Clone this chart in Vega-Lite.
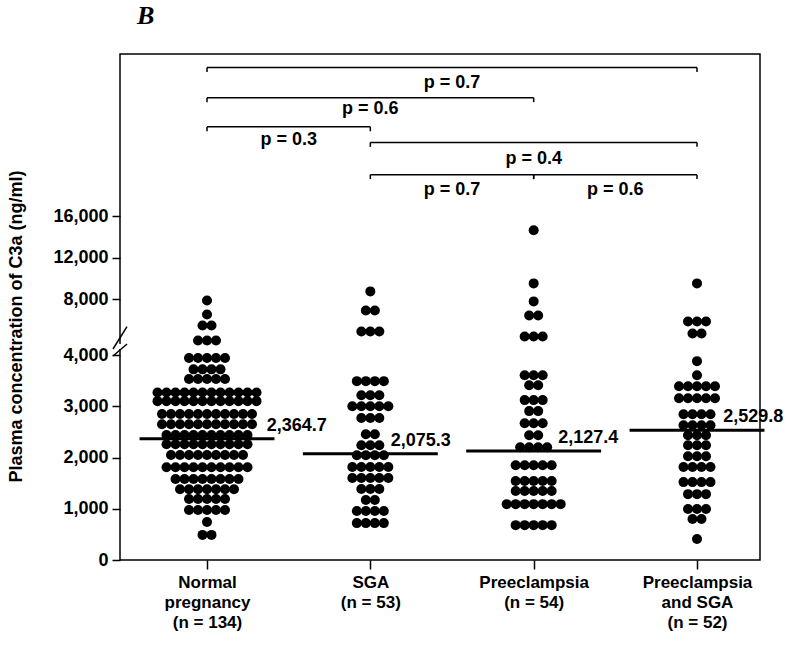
{
  "$schema": "https://vega.github.io/schema/vega-lite/v6.json",
  "autosize": {"type": "none"},
  "width": 640,
  "height": 506,
  "padding": {"left": 120, "top": 54, "right": 40, "bottom": 86},
  "background": "white",
  "config": {
    "view": {"stroke": "black", "strokeWidth": 1.5},
    "font": "Liberation Sans",
    "text": {"font": "Liberation Sans", "fontWeight": "bold", "fontSize": 18, "color": "black"}
  },
  "title": {"text": "B", "font": "Liberation Serif", "fontSize": 26, "fontStyle": "italic", "fontWeight": "bold", "anchor": "start", "frame": "group", "dx": 17, "offset": 25, "color": "black"},
  "datasets": {
    "dots": [
      {"g":"N","v":7900},
      {"g":"N","v":6550},
      {"g":"N","v":5500},{"g":"N","v":5500},
      {"g":"N","v":4050},{"g":"N","v":4050},{"g":"N","v":4050},
      {"g":"N","v":3940},{"g":"N","v":3940},{"g":"N","v":3940},{"g":"N","v":3940},{"g":"N","v":3940},
      {"g":"N","v":3720},{"g":"N","v":3720},{"g":"N","v":3720},{"g":"N","v":3720},
      {"g":"N","v":3530},{"g":"N","v":3530},{"g":"N","v":3530},{"g":"N","v":3530},{"g":"N","v":3530},
      {"g":"N","v":3270},{"g":"N","v":3270},{"g":"N","v":3270},{"g":"N","v":3270},{"g":"N","v":3270},{"g":"N","v":3270},{"g":"N","v":3270},{"g":"N","v":3270},{"g":"N","v":3270},{"g":"N","v":3270},{"g":"N","v":3270},{"g":"N","v":3270},
      {"g":"N","v":3100},{"g":"N","v":3100},{"g":"N","v":3100},{"g":"N","v":3100},{"g":"N","v":3100},{"g":"N","v":3100},{"g":"N","v":3100},{"g":"N","v":3100},{"g":"N","v":3100},{"g":"N","v":3100},{"g":"N","v":3100},{"g":"N","v":3100},
      {"g":"N","v":2850},{"g":"N","v":2850},{"g":"N","v":2850},{"g":"N","v":2850},{"g":"N","v":2850},{"g":"N","v":2850},{"g":"N","v":2850},{"g":"N","v":2850},{"g":"N","v":2850},{"g":"N","v":2850},{"g":"N","v":2850},
      {"g":"N","v":2650},{"g":"N","v":2650},{"g":"N","v":2650},{"g":"N","v":2650},{"g":"N","v":2650},{"g":"N","v":2650},{"g":"N","v":2650},{"g":"N","v":2650},{"g":"N","v":2650},{"g":"N","v":2650},{"g":"N","v":2650},
      {"g":"N","v":2440},{"g":"N","v":2440},{"g":"N","v":2440},{"g":"N","v":2440},{"g":"N","v":2440},{"g":"N","v":2440},{"g":"N","v":2440},{"g":"N","v":2440},{"g":"N","v":2440},{"g":"N","v":2440},
      {"g":"N","v":2260},{"g":"N","v":2260},{"g":"N","v":2260},{"g":"N","v":2260},{"g":"N","v":2260},{"g":"N","v":2260},{"g":"N","v":2260},{"g":"N","v":2260},{"g":"N","v":2260},{"g":"N","v":2260},
      {"g":"N","v":2050},{"g":"N","v":2050},{"g":"N","v":2050},{"g":"N","v":2050},{"g":"N","v":2050},{"g":"N","v":2050},{"g":"N","v":2050},{"g":"N","v":2050},{"g":"N","v":2050},
      {"g":"N","v":1810},{"g":"N","v":1810},{"g":"N","v":1810},{"g":"N","v":1810},{"g":"N","v":1810},{"g":"N","v":1810},{"g":"N","v":1810},{"g":"N","v":1810},{"g":"N","v":1810},{"g":"N","v":1810},
      {"g":"N","v":1580},{"g":"N","v":1580},{"g":"N","v":1580},{"g":"N","v":1580},{"g":"N","v":1580},{"g":"N","v":1580},{"g":"N","v":1580},{"g":"N","v":1580},
      {"g":"N","v":1380},{"g":"N","v":1380},{"g":"N","v":1380},{"g":"N","v":1380},{"g":"N","v":1380},{"g":"N","v":1380},{"g":"N","v":1380},
      {"g":"N","v":1190},{"g":"N","v":1190},{"g":"N","v":1190},{"g":"N","v":1190},{"g":"N","v":1190},
      {"g":"N","v":975},{"g":"N","v":975},{"g":"N","v":975},{"g":"N","v":975},{"g":"N","v":975},
      {"g":"N","v":740},
      {"g":"N","v":490},{"g":"N","v":490},
      {"g":"S","v":8770},
      {"g":"S","v":6940},{"g":"S","v":6940},
      {"g":"S","v":4915},{"g":"S","v":4915},{"g":"S","v":4915},
      {"g":"S","v":3490},{"g":"S","v":3490},{"g":"S","v":3490},{"g":"S","v":3490},
      {"g":"S","v":3215},{"g":"S","v":3215},{"g":"S","v":3215},
      {"g":"S","v":3000},{"g":"S","v":3000},{"g":"S","v":3000},{"g":"S","v":3000},{"g":"S","v":3000},
      {"g":"S","v":2770},{"g":"S","v":2770},{"g":"S","v":2770},
      {"g":"S","v":2455},{"g":"S","v":2455},
      {"g":"S","v":2240},{"g":"S","v":2240},{"g":"S","v":2240},
      {"g":"S","v":2045},{"g":"S","v":2045},{"g":"S","v":2045},{"g":"S","v":2045},
      {"g":"S","v":1815},{"g":"S","v":1815},{"g":"S","v":1815},{"g":"S","v":1815},{"g":"S","v":1815},
      {"g":"S","v":1600},{"g":"S","v":1600},{"g":"S","v":1600},{"g":"S","v":1600},{"g":"S","v":1600},
      {"g":"S","v":1385},{"g":"S","v":1385},{"g":"S","v":1385},
      {"g":"S","v":1170},{"g":"S","v":1170},
      {"g":"S","v":955},{"g":"S","v":955},{"g":"S","v":955},{"g":"S","v":955},
      {"g":"S","v":720},{"g":"S","v":720},{"g":"S","v":720},{"g":"S","v":720},
      {"g":"P","v":14650},
      {"g":"P","v":9540},
      {"g":"P","v":7810},
      {"g":"P","v":6460},{"g":"P","v":6460},
      {"g":"P","v":4430},{"g":"P","v":4430},{"g":"P","v":4430},
      {"g":"P","v":3605},{"g":"P","v":3605},{"g":"P","v":3605},
      {"g":"P","v":3410},{"g":"P","v":3410},
      {"g":"P","v":3120},{"g":"P","v":3120},{"g":"P","v":3120},
      {"g":"P","v":2905},{"g":"P","v":2905},
      {"g":"P","v":2670},{"g":"P","v":2670},{"g":"P","v":2670},
      {"g":"P","v":2435},{"g":"P","v":2435},
      {"g":"P","v":2200},{"g":"P","v":2200},{"g":"P","v":2200},{"g":"P","v":2200},
      {"g":"P","v":1850},{"g":"P","v":1850},{"g":"P","v":1850},{"g":"P","v":1850},{"g":"P","v":1850},
      {"g":"P","v":1540},{"g":"P","v":1540},{"g":"P","v":1540},{"g":"P","v":1540},{"g":"P","v":1540},
      {"g":"P","v":1345},{"g":"P","v":1345},{"g":"P","v":1345},{"g":"P","v":1345},{"g":"P","v":1345},
      {"g":"P","v":1090},{"g":"P","v":1090},{"g":"P","v":1090},{"g":"P","v":1090},{"g":"P","v":1090},{"g":"P","v":1090},{"g":"P","v":1090},
      {"g":"P","v":680},{"g":"P","v":680},{"g":"P","v":680},{"g":"P","v":680},{"g":"P","v":680},
      {"g":"PS","v":9540},
      {"g":"PS","v":5880},{"g":"PS","v":5880},{"g":"PS","v":5880},
      {"g":"PS","v":4720},{"g":"PS","v":4720},
      {"g":"PS","v":3880},
      {"g":"PS","v":3605},
      {"g":"PS","v":3390},{"g":"PS","v":3390},{"g":"PS","v":3390},{"g":"PS","v":3390},{"g":"PS","v":3390},
      {"g":"PS","v":3155},{"g":"PS","v":3155},{"g":"PS","v":3155},{"g":"PS","v":3155},{"g":"PS","v":3155},
      {"g":"PS","v":2845},{"g":"PS","v":2845},{"g":"PS","v":2845},{"g":"PS","v":2845},
      {"g":"PS","v":2630},{"g":"PS","v":2630},{"g":"PS","v":2630},{"g":"PS","v":2630},
      {"g":"PS","v":2435},{"g":"PS","v":2435},{"g":"PS","v":2435},
      {"g":"PS","v":2240},{"g":"PS","v":2240},{"g":"PS","v":2240},
      {"g":"PS","v":2025},{"g":"PS","v":2025},{"g":"PS","v":2025},
      {"g":"PS","v":1815},{"g":"PS","v":1815},{"g":"PS","v":1815},{"g":"PS","v":1815},
      {"g":"PS","v":1520},{"g":"PS","v":1520},{"g":"PS","v":1520},{"g":"PS","v":1520},
      {"g":"PS","v":1285},{"g":"PS","v":1285},{"g":"PS","v":1285},
      {"g":"PS","v":995},{"g":"PS","v":995},{"g":"PS","v":995},
      {"g":"PS","v":800},{"g":"PS","v":800},
      {"g":"PS","v":410}
    ],
    "means": [
      {"g":"N","m":2364.7,"t":"2,364.7","lx":1.366},
      {"g":"S","m":2075.3,"t":"2,075.3","lx":2.125},
      {"g":"P","m":2127.4,"t":"2,127.4","lx":3.15},
      {"g":"PS","m":2529.8,"t":"2,529.8","lx":4.16}
    ],
    "brackets": [
      {"a":1,"b":4,"y":30300,"ly":28800,"p":"p = 0.7"},
      {"a":1,"b":3,"y":27400,"ly":26300,"p":"p = 0.6"},
      {"a":1,"b":2,"y":24600,"ly":23300,"p":"p = 0.3"},
      {"a":2,"b":4,"y":23100,"ly":21500,"p":"p = 0.4"},
      {"a":2,"b":3,"y":20000,"ly":18500,"p":"p = 0.7"},
      {"a":3,"b":4,"y":20000,"ly":18500,"p":"p = 0.6"}
    ]
  },
  "encoding": {
    "x": {
      "field": "xp", "type": "quantitative",
      "scale": {"domain": [0.4673, 4.3857], "nice": false, "zero": false},
      "axis": {
        "title": null, "values": [1, 2, 3, 4], "domain": false, "grid": false,
        "tickSize": 9, "tickWidth": 1.5, "tickColor": "black",
        "labelFont": "Liberation Sans", "labelFontWeight": "bold", "labelFontSize": 17, "labelColor": "black",
        "labelPadding": 5, "labelLineHeight": 20, "labelBaseline": "top", "labelFlush": false, "labelOverlap": false,
        "labelExpr": "datum.value == 1 ? ['Normal', 'pregnancy', '(n = 134)'] : datum.value == 2 ? ['SGA', '(n = 53)'] : datum.value == 3 ? ['Preeclampsia', '(n = 54)'] : ['Preeclampsia', 'and SGA', '(n = 52)']"
      }
    },
    "y": {
      "field": "yp", "type": "quantitative",
      "scale": {"domain": [0, 4000, 4001, 31600], "range": [506, 301, 287, 0], "nice": false, "zero": false},
      "axis": {
        "title": "Plasma concentration of C3a (ng/ml)",
        "values": [0, 1000, 2000, 3000, 4000, 8000, 12000, 16000], "format": ",.0f",
        "domain": false, "grid": false,
        "tickSize": 8, "tickWidth": 1.5, "tickColor": "black",
        "labelFont": "Liberation Sans", "labelFontWeight": "bold", "labelFontSize": 18, "labelColor": "black",
        "labelPadding": 4, "labelFlush": false, "labelOverlap": false,
        "titleFont": "Liberation Sans", "titleFontWeight": "bold", "titleFontSize": 18, "titleColor": "black",
        "titleX": -104, "titleY": 272, "titleAngle": 270, "titleAlign": "center", "titleBaseline": "middle"
      }
    }
  },
  "layer": [
    {
      "data": {"name": "dots"},
      "transform": [
        {"window": [{"op": "row_number", "as": "idx"}, {"op": "count", "as": "cnt"}], "groupby": ["g", "v"], "frame": [null, null]},
        {"calculate": "indexof(['N','S','P','PS'], datum.g) + 1", "as": "gi"},
        {"calculate": "datum.gi + (datum.idx - (datum.cnt + 1) / 2) * 0.0551", "as": "xp"},
        {"calculate": "datum.v", "as": "yp"}
      ],
      "mark": {"type": "circle", "color": "black", "opacity": 1, "size": 100}
    },
    {
      "data": {"name": "means"},
      "transform": [
        {"calculate": "indexof(['N','S','P','PS'], datum.g) + 1", "as": "gi"},
        {"calculate": "datum.gi - 0.413", "as": "xp"},
        {"calculate": "datum.gi + 0.413", "as": "xe"},
        {"calculate": "datum.m", "as": "yp"}
      ],
      "mark": {"type": "rule", "color": "black", "strokeWidth": 3},
      "encoding": {"x2": {"field": "xe"}}
    },
    {
      "data": {"name": "means"},
      "transform": [
        {"calculate": "datum.lx", "as": "xp"},
        {"calculate": "datum.m", "as": "yp"}
      ],
      "mark": {"type": "text", "align": "left", "baseline": "alphabetic", "dy": -8},
      "encoding": {"text": {"field": "t"}}
    },
    {
      "data": {"name": "brackets"},
      "transform": [
        {"calculate": "datum.a", "as": "xp"},
        {"calculate": "datum.b", "as": "xe"},
        {"calculate": "datum.y", "as": "yp"}
      ],
      "mark": {"type": "rule", "color": "black", "strokeWidth": 1.5},
      "encoding": {"x2": {"field": "xe"}}
    },
    {
      "data": {"name": "brackets"},
      "transform": [
        {"fold": ["a", "b"], "as": ["k", "xv"]},
        {"calculate": "datum.xv", "as": "xp"},
        {"calculate": "datum.y", "as": "yp"},
        {"calculate": "datum.y - 430", "as": "ye"}
      ],
      "mark": {"type": "rule", "color": "black", "strokeWidth": 1.5},
      "encoding": {"y2": {"field": "ye"}}
    },
    {
      "data": {"name": "brackets"},
      "transform": [
        {"calculate": "(datum.a + datum.b) / 2", "as": "xp"},
        {"calculate": "datum.ly", "as": "yp"}
      ],
      "mark": {"type": "text", "align": "center", "baseline": "middle"},
      "encoding": {"text": {"field": "p"}}
    },
    {
      "data": {"values": [{"xp": 0.4673, "yp": 4000.43, "ye": 4000.79}]},
      "mark": {"type": "rule", "color": "white", "strokeWidth": 4},
      "encoding": {"y2": {"field": "ye"}}
    },
    {
      "data": {"values": [
        {"xp": 0.4244, "yp": 3980.5, "xe": 0.5102, "ye": 4000.786},
        {"xp": 0.4244, "yp": 4000.43, "xe": 0.5102, "ye": 5386}
      ]},
      "mark": {"type": "rule", "color": "black", "strokeWidth": 1.5},
      "encoding": {"x2": {"field": "xe"}, "y2": {"field": "ye"}}
    }
  ]
}
